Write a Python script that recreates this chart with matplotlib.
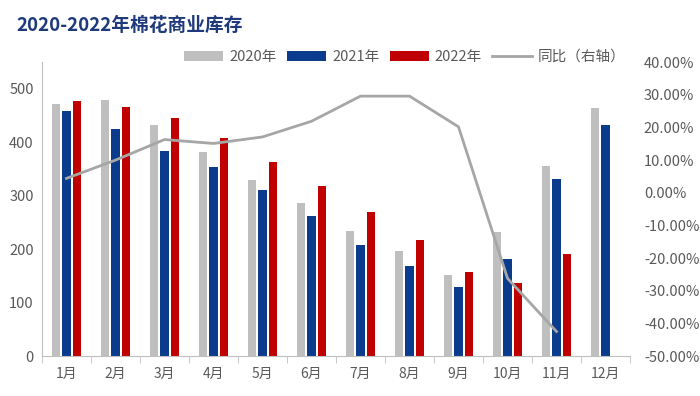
import numpy as np
import matplotlib
matplotlib.use('Agg')
import matplotlib.pyplot as plt
from matplotlib.ticker import FuncFormatter

plt.rcParams['font.family'] = ['Noto Sans CJK SC', 'DejaVu Sans']

months = ['1月', '2月', '3月', '4月', '5月', '6月', '7月', '8月', '9月', '10月', '11月', '12月']
stock_2020 = [471, 479, 433, 381, 329, 287, 234, 196, 152, 232, 356, 464]
stock_2021 = [458, 425, 384, 354, 311, 262, 207, 168, 129, 182, 331, 433]
stock_2022 = [478, 466, 446, 408, 364, 319, 269, 218, 157, 136, 190]
yoy = [4.4, 10.0, 16.3, 15.1, 17.1, 21.9, 29.6, 29.6, 20.2, -26.2, -42.5]

c_gray = '#BFBFBF'
c_blue = '#0B3B8C'
c_red = '#C00000'
c_line = '#A6A6A6'
c_text = '#595959'

fig = plt.figure(figsize=(7, 3.96), dpi=100)
ax = fig.add_axes([0.06, 0.101, 0.84, 0.742])

x = np.arange(len(months))
w = 0.165
step = 0.214
ax.bar(x - step, stock_2020, w, color=c_gray, label='2020年')
ax.bar(x, stock_2021, w, color=c_blue, label='2021年')
ax.bar(np.arange(len(stock_2022)) + step, stock_2022, w, color=c_red, label='2022年')

ax.set_xlim(-0.5, len(months) - 0.5)
ax.set_ylim(0, 550)
ax.set_yticks(range(0, 501, 100))
ax.set_xticks(x)
ax.set_xticklabels(months)
ax.set_xticks(np.arange(-0.5, len(months), 1), minor=True)
ax.tick_params(axis='x', which='major', length=0, labelsize=10, colors=c_text, pad=8)
ax.tick_params(axis='x', which='minor', length=5, color='#BFBFBF')
ax.tick_params(axis='y', length=0, labelsize=10.5, colors=c_text, pad=6)
for s in ['top', 'right']:
    ax.spines[s].set_visible(False)
ax.spines['left'].set_color('#BFBFBF')
ax.spines['bottom'].set_color('#BFBFBF')

ax2 = ax.twinx()
ln, = ax2.plot(np.arange(len(yoy)), yoy, color=c_line, lw=2, label='同比（右轴）')
ax2.set_ylim(-50, 40)
ax2.set_yticks(range(-50, 41, 10))
ax2.yaxis.set_major_formatter(FuncFormatter(lambda v, p: f'{v:.2f}%'))
ax2.tick_params(axis='y', length=0, labelsize=10.5, colors=c_text, pad=10)
for s in ['top', 'right', 'left', 'bottom']:
    ax2.spines[s].set_visible(False)

h1, l1 = ax.get_legend_handles_labels()
fig.legend(h1 + [ln], l1 + ['同比（右轴）'], loc='center', bbox_to_anchor=(0.578, 0.856),
           ncol=4, frameon=False, fontsize=10.5, handlelength=2.7, handleheight=0.7,
           columnspacing=0.7, handletextpad=0.4, labelcolor=c_text)

fig.text(0.024, 0.937, '2020-2022年棉花商业库存', fontsize=13.5, fontweight='bold',
         color='#1F3A7A', va='center', ha='left')

fig.savefig('out.png', dpi=100)
